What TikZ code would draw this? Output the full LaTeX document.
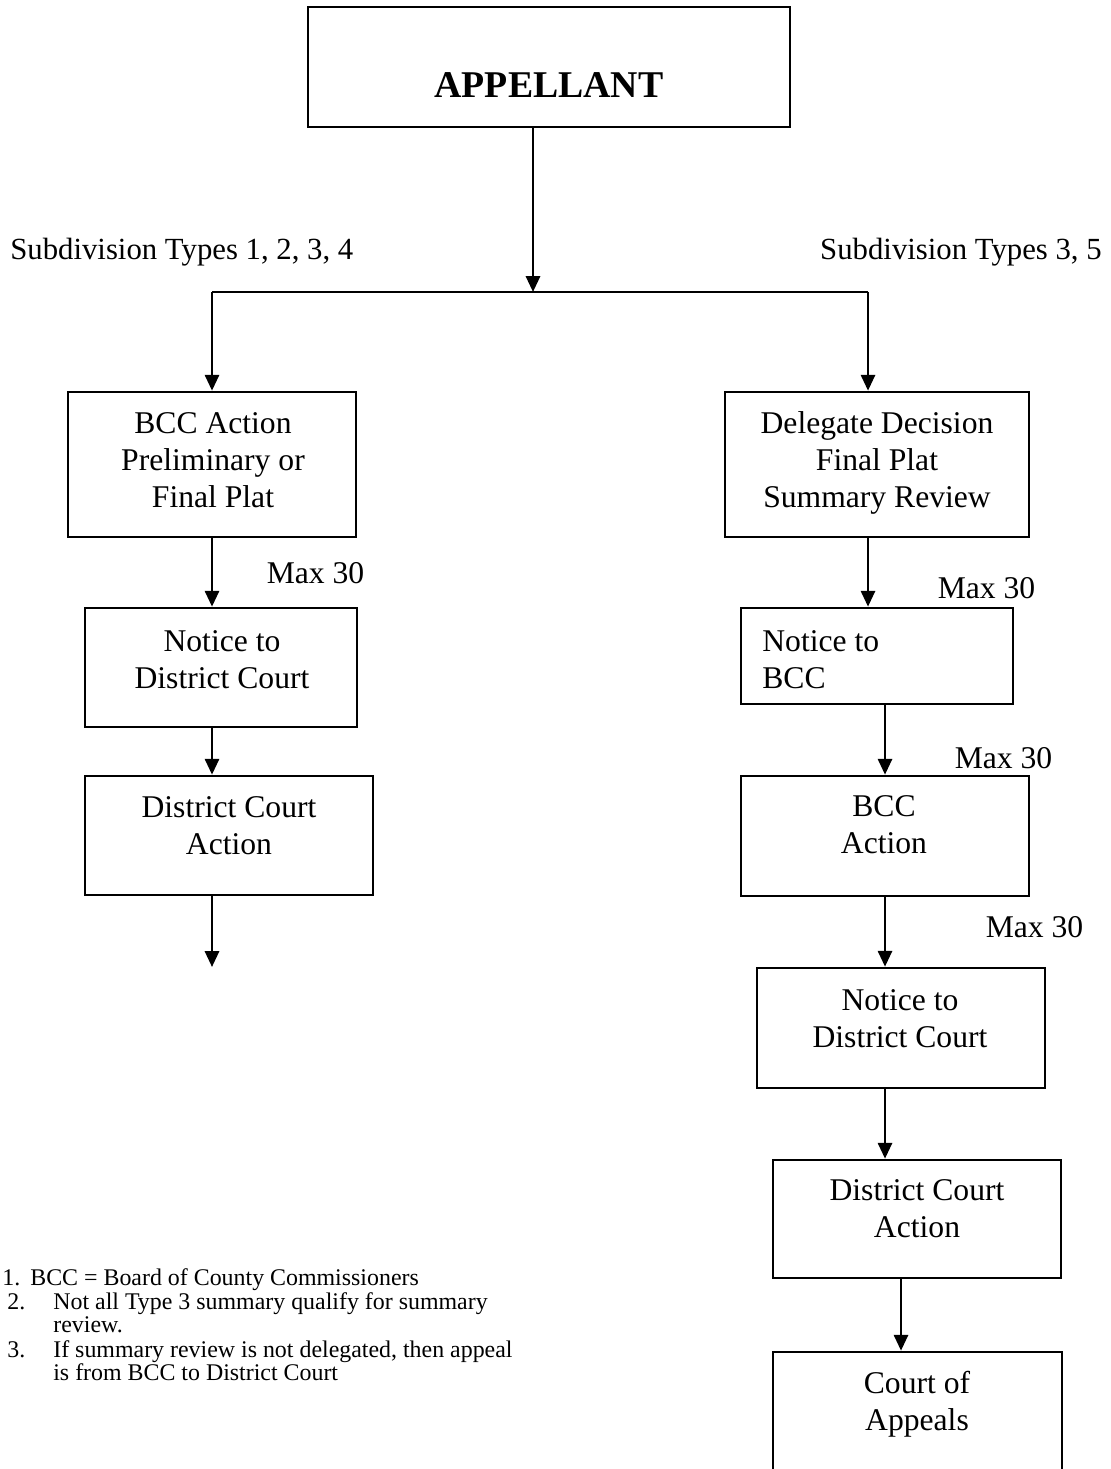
\documentclass[tikz,border=0pt]{standalone}
\usepackage{fontspec}
\setmainfont{Liberation Serif}
\usetikzlibrary{positioning}
\usetikzlibrary{arrows.meta}

\tikzset{
    box/.style={draw, line width=1.5pt, inner sep=0pt},
    boxtext/.style={align=center, inner sep=0pt, font=\fontsize{18}{21}\selectfont},
    typelabel/.style={inner sep=0pt, font=\fontsize{17.5}{21}\selectfont},
    maxlabel/.style={inner sep=0pt, font=\fontsize{18}{21}\selectfont},
    note/.style={inner sep=0pt, anchor=base west, font=\fontsize{13.6}{13.3}\selectfont},
    flow/.style={line width=1.5pt, -{Triangle[width=8pt, length=9pt]}},
    branch/.style={line width=1.5pt},
}

\begin{document}
\begin{tikzpicture}[x=0.02cm, y=-0.02cm]
    \useasboundingbox (0,0) rectangle (1110,1469);
    \clip (0,0) rectangle (1110,1469);

    \node[box, minimum width=9.64cm, minimum height=2.4cm] (app) at (549,67) {};
    \node[inner sep=0pt, font=\fontsize{21.5}{26}\selectfont\bfseries] (app-t) at (549,85) {APPELLANT};

    % split
    \coordinate (split) at (533,292);
    \coordinate (hl) at (212,292);
    \coordinate (hr) at (868,292);
    \node[typelabel, anchor=west] (typesL) at (10,252) {Subdivision Types 1, 2, 3, 4};
    \node[typelabel, anchor=east] (typesR) at (1102,252) {Subdivision Types 3, 5};

    % left
    \node[box, minimum width=5.76cm, minimum height=2.9cm] (bccL) at (212,464.5) {};
    \node[boxtext] (bccL-t) at (213,460) {BCC Action\\Preliminary or\\Final Plat};
    \node[box, minimum width=5.44cm, minimum height=2.38cm] (ntcL) at (221,667.5) {};
    \node[boxtext] (ntcL-t) at (222,660) {Notice to\\District Court};
    \node[box, minimum width=5.76cm, minimum height=2.38cm] (dcL) at (229,835.5) {};
    \node[boxtext] (dcL-t) at (229,825.5) {District Court\\Action};
    \coordinate (endL) at (212,967);
    \node[maxlabel] (maxL) at (315.5,573) {Max 30};

    % right
    \node[box, minimum width=6.08cm, minimum height=2.9cm] (deleg) at (877,464.5) {};
    \node[boxtext] (deleg-t) at (877,463) {Delegate Decision\\Final Plat\\Summary Review};
    \node[box, minimum width=5.44cm, minimum height=1.92cm] (ntcR) at (877,656) {};
    \node[boxtext, align=left, anchor=west] (ntcR-t) at (762,660) {Notice to\\BCC};
    \node[box, minimum width=5.76cm, minimum height=2.4cm] (bccR) at (885,836) {};
    \node[boxtext] (bccR-t) at (884,825) {BCC\\Action};
    \node[box, minimum width=5.76cm, minimum height=2.4cm] (ntcdcR) at (901,1028) {};
    \node[boxtext] (ntcdcR-t) at (900,1018.5) {Notice to\\District Court};
    \node[box, minimum width=5.76cm, minimum height=2.36cm] (dcR) at (917,1219) {};
    \node[boxtext] (dcR-t) at (917,1209) {District Court\\Action};
    \node[box, minimum width=5.78cm, minimum height=2.76cm] (coa) at (917.5,1421) {};
    \node[boxtext] (coa-t) at (917,1404.5) {Court of\\Appeals};
    \node[maxlabel] (maxR1) at (986.5,588) {Max 30};
    \node[maxlabel] (maxR2) at (1003.5,758) {Max 30};
    \node[maxlabel] (maxR3) at (1034.5,927) {Max 30};

    % notes
    \node[note] (n1) at (2,1285) {1.};
    \node[note] (n1-t) at (30,1285) {BCC = Board of County Commissioners};
    \node[note] (n2) at (7,1309) {2.};
    \node[note] (n2-t) at (53,1309) {Not all Type 3 summary qualify for summary};
    \node[note] (n2-t2) at (53,1332) {review.};
    \node[note] (n3) at (7,1357) {3.};
    \node[note] (n3-t) at (53,1357) {If summary review is not delegated, then appeal};
    \node[note] (n3-t2) at (53,1380) {is from BCC to District Court};

    \draw[flow] (app.south -| split) -- (split);
    \draw[branch] (hl) -- (hr);
    \draw[flow] (hl) -- (hl |- bccL.north);
    \draw[flow] (hr) -- (hr |- deleg.north);

    \draw[flow] (bccL.south) -- (bccL.south |- ntcL.north);
    \draw[flow] (ntcL.south -| bccL.south) -- (bccL.south |- dcL.north);
    \draw[flow] (dcL.south -| bccL.south) -- (endL);

    \draw[flow] (hr |- deleg.south) -- (hr |- ntcR.north);
    \draw[flow] (ntcR.south -| bccR.north) -- (bccR.north);
    \draw[flow] (bccR.south) -- (bccR.south |- ntcdcR.north);
    \draw[flow] (bccR.south |- ntcdcR.south) -- (bccR.south |- dcR.north);
    \draw[flow] (dcR.south -| ntcdcR.south) -- (ntcdcR.south |- coa.north);
\end{tikzpicture}
\end{document}
